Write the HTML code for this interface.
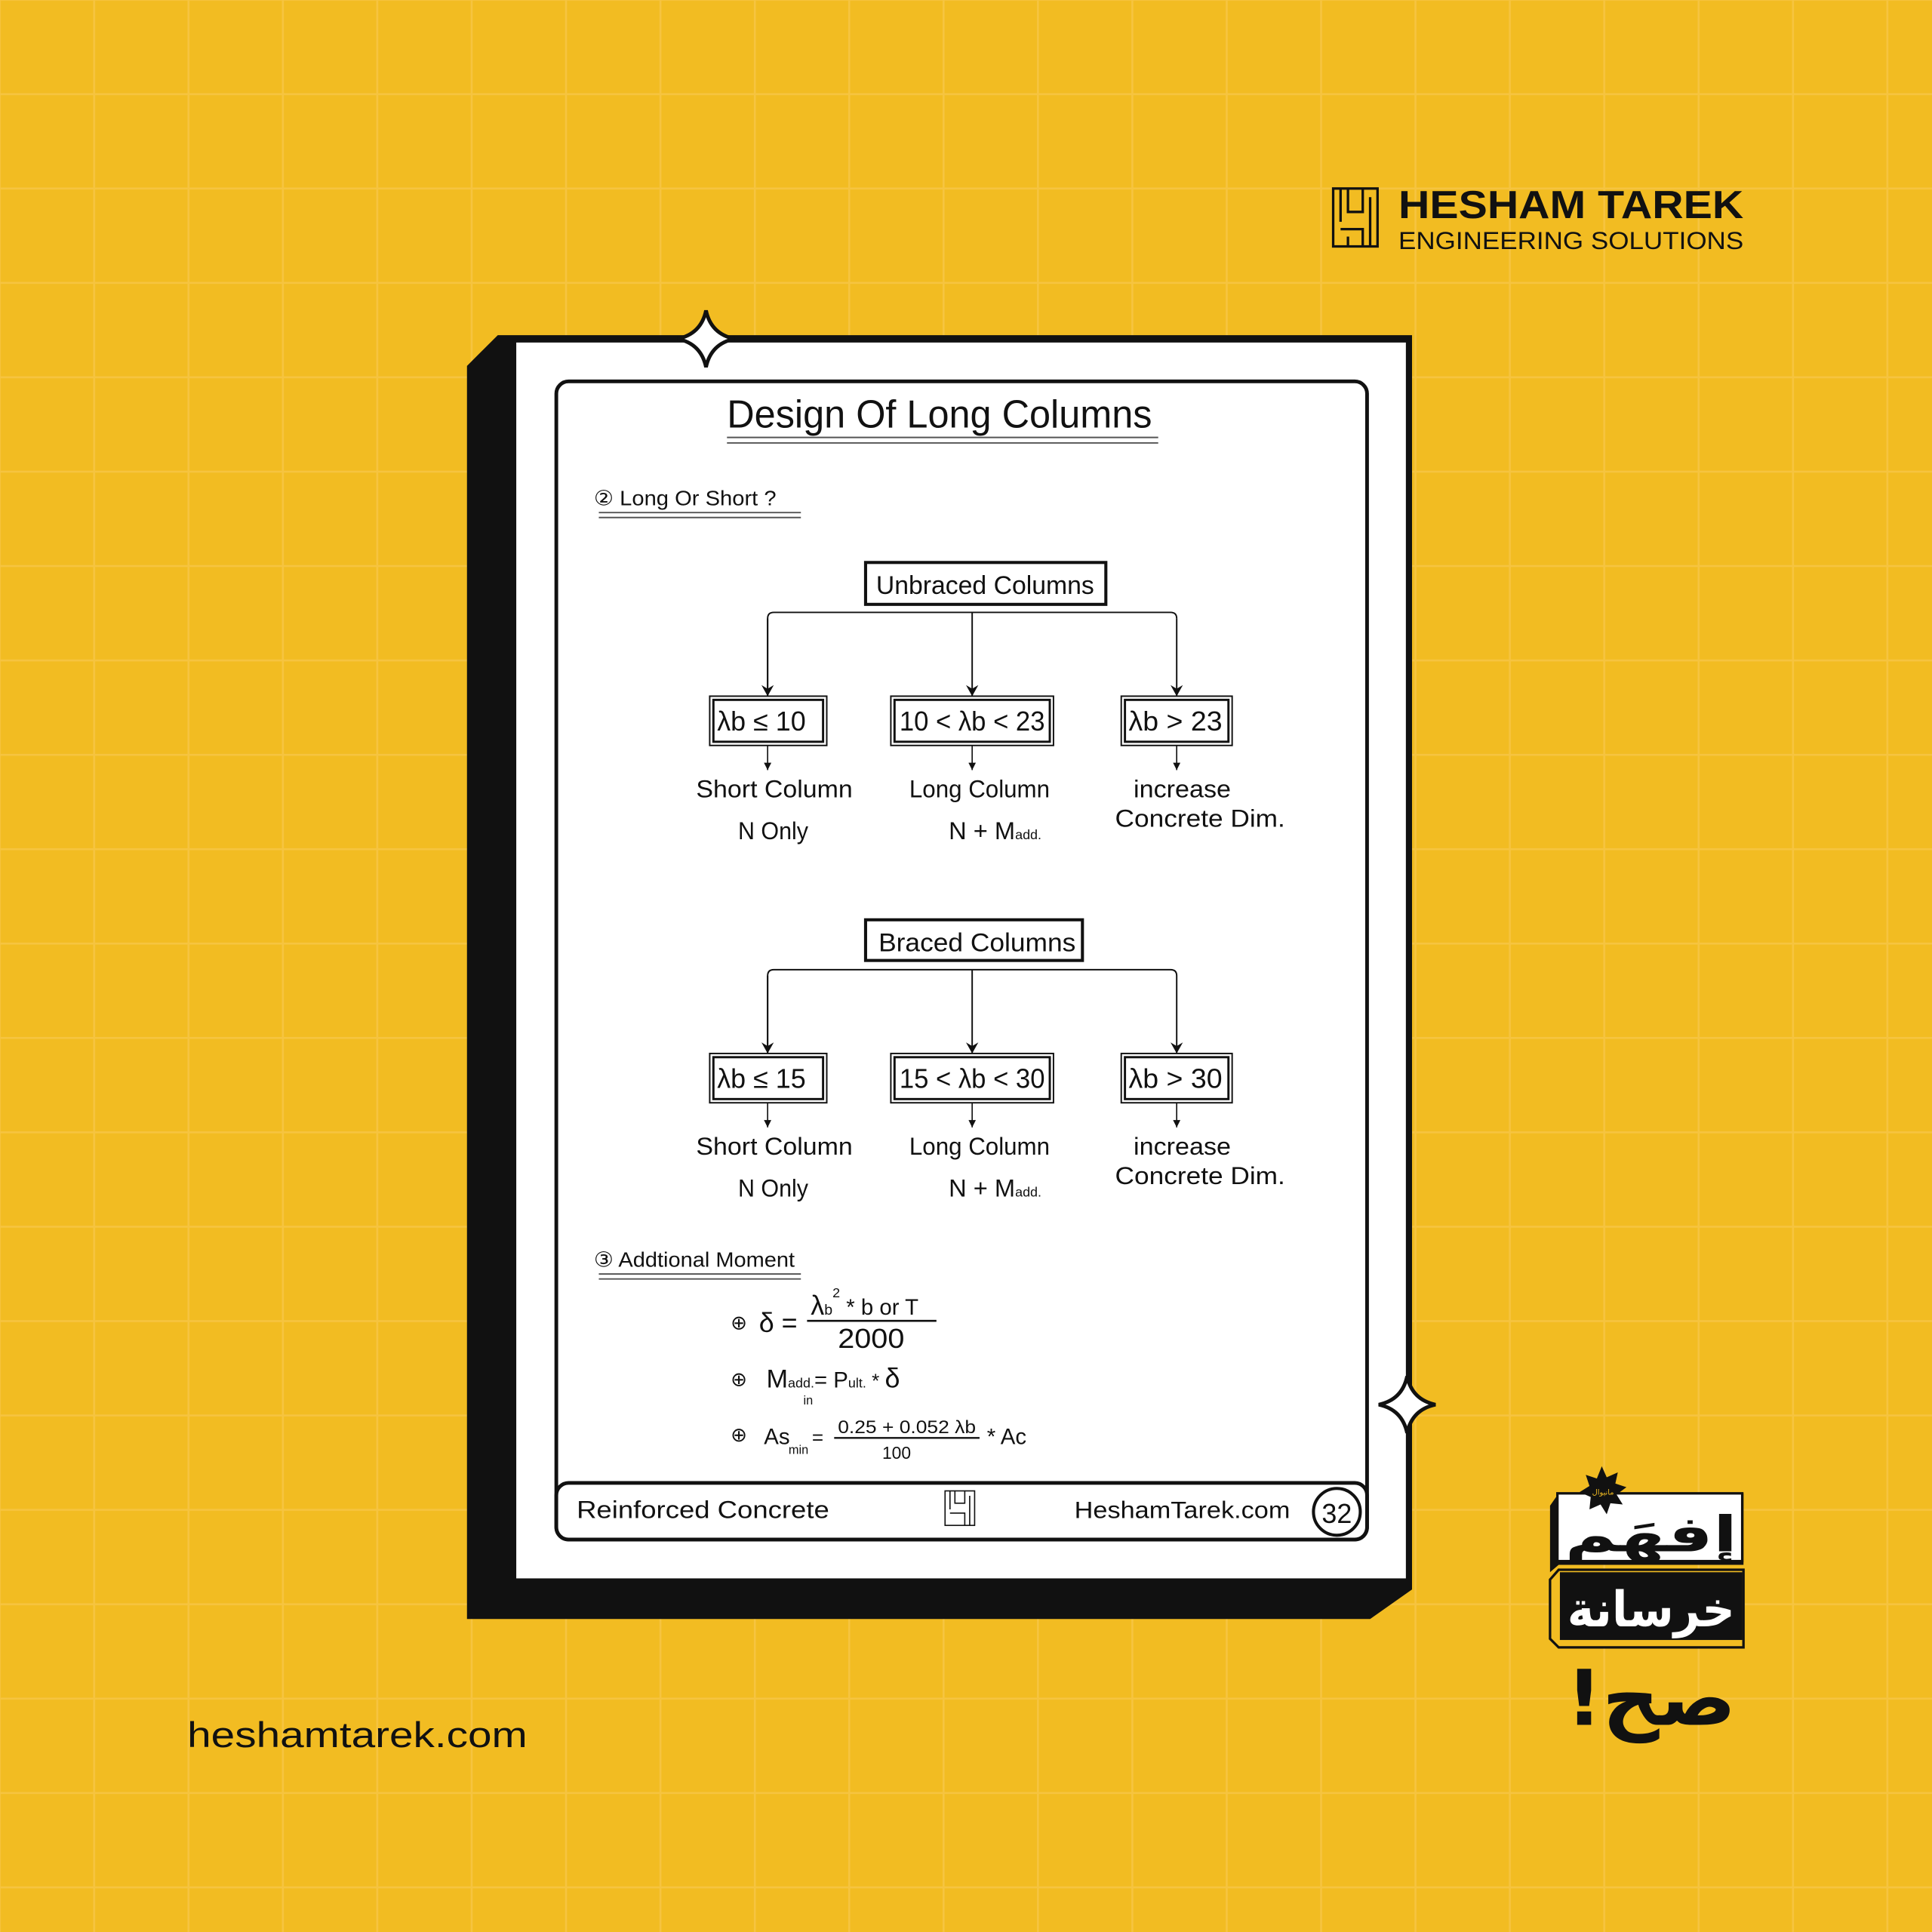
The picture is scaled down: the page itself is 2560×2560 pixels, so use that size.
<!DOCTYPE html>
<html><head><meta charset="utf-8"><style>
html,body{margin:0;padding:0;background:#F2BC22;}
svg{display:block}
.h{font-family:"Liberation Sans","DejaVu Sans",sans-serif;fill:#111;}
</style></head><body>
<svg width="2560" height="2560" viewBox="0 0 1568 1568" xmlns="http://www.w3.org/2000/svg">
<defs>
<pattern id="g" x="-1" y="-1" width="76.6" height="76.6" patternUnits="userSpaceOnUse">
<rect width="76.6" height="76.6" fill="#F2BC22"/>
<rect x="0" y="0" width="1.6" height="76.6" fill="#F6C440"/>
<rect x="0" y="0" width="76.6" height="1.6" fill="#F6C440"/>
</pattern>
<marker id="ar" markerWidth="10" markerHeight="10" refX="9" refY="5" orient="auto" markerUnits="userSpaceOnUse"><path d="M0,0 L9,5 L0,10 L3,5 Z" fill="#111"/></marker>
<marker id="as" markerWidth="6" markerHeight="6" refX="6" refY="3" orient="auto" markerUnits="userSpaceOnUse"><path d="M0,0 L6,3 L0,6 Z" fill="#111"/></marker>
</defs>
<rect width="1568" height="1568" fill="url(#g)"/>

<!-- header logo -->
<g fill="none" stroke="#111" stroke-width="2">
<rect x="1082" y="153" width="36" height="47"/>
<path d="M1088,153 V180 M1094,153 V172 H1106 V153 M1112,160 V200 M1088,186 H1106 V200 M1094,192 V200"/>
</g>
<text x="1135" y="177" class="h" font-size="32" font-weight="bold" textLength="280" lengthAdjust="spacingAndGlyphs">HESHAM TAREK</text>
<text x="1135" y="202" class="h" font-size="20" textLength="280" lengthAdjust="spacingAndGlyphs">ENGINEERING SOLUTIONS</text>

<!-- page -->
<path d="M379,297 L404,272 L1146,272 L1146,1290 L1112,1314 L379,1314 Z" fill="#111"/>
<rect x="419" y="278" width="722" height="1003" fill="#fff"/>
<path d="M573,252 Q577,271 596,275 Q577,279 573,298 Q569,279 550,275 Q569,271 573,252 Z" fill="#fff" stroke="#111" stroke-width="3"/>
<path d="M1142,1117 Q1146,1136 1165,1140 Q1146,1144 1142,1163 Q1138,1144 1119,1140 Q1138,1136 1142,1117 Z" fill="#fff" stroke="#111" stroke-width="3"/>

<rect x="451.5" y="309.5" width="658" height="940" rx="10" fill="#fff" stroke="#111" stroke-width="3"/>
<rect x="451.5" y="1203.5" width="658" height="46" rx="10" fill="#fff" stroke="#111" stroke-width="3"/>

<text x="590" y="347" class="h" font-size="32" textLength="345" lengthAdjust="spacingAndGlyphs">Design Of Long Columns</text>
<path d="M590,355 H940 M590,359.5 H940" stroke="#555" stroke-width="1.2"/>

<text x="482" y="410" class="h" font-size="17" textLength="148" lengthAdjust="spacingAndGlyphs">② Long Or Short ?</text>
<path d="M486,416 H650 M486,420 H650" stroke="#555" stroke-width="1.2"/>

<g id="tree">
<path d="M623,565 V502 Q623,497 628,497 H950 Q955,497 955,502" fill="none" stroke="#111" stroke-width="1.2"/>
<path d="M623,502 V565" stroke="#111" stroke-width="1.2" marker-end="url(#ar)"/>
<path d="M955,502 V565" stroke="#111" stroke-width="1.2" marker-end="url(#ar)"/>
<path d="M789,497 V565" stroke="#111" stroke-width="1.2" marker-end="url(#ar)"/>
<path d="M623,605 V625" stroke="#111" stroke-width="1" marker-end="url(#as)"/>
<path d="M789,605 V625" stroke="#111" stroke-width="1" marker-end="url(#as)"/>
<path d="M955,605 V625" stroke="#111" stroke-width="1" marker-end="url(#as)"/>
<g fill="none" stroke="#111">
<rect x="576" y="565" width="95" height="40" stroke-width="1.2"/><rect x="579" y="568" width="89" height="34" stroke-width="1.8"/>
<rect x="723" y="565" width="132" height="40" stroke-width="1.2"/><rect x="726" y="568" width="126" height="34" stroke-width="1.8"/>
<rect x="910" y="565" width="90" height="40" stroke-width="1.2"/><rect x="913" y="568" width="84" height="34" stroke-width="1.8"/>
</g>
<text x="565" y="647" class="h" font-size="20" textLength="127" lengthAdjust="spacingAndGlyphs">Short Column</text>
<text x="599" y="681" class="h" font-size="20" textLength="57" lengthAdjust="spacingAndGlyphs">N Only</text>
<text x="738" y="647" class="h" font-size="20" textLength="114" lengthAdjust="spacingAndGlyphs">Long Column</text>
<text x="770" y="681" class="h" font-size="20">N + M<tspan font-size="11">add.</tspan></text>
<text x="920" y="647" class="h" font-size="20" textLength="79" lengthAdjust="spacingAndGlyphs">increase</text>
<text x="905" y="671" class="h" font-size="20" textLength="138" lengthAdjust="spacingAndGlyphs">Concrete Dim.</text>
</g>
<rect x="702.5" y="456.5" width="195" height="34" fill="#fff" stroke="#111" stroke-width="2.5"/>
<text x="711" y="482" class="h" font-size="21" textLength="177" lengthAdjust="spacingAndGlyphs">Unbraced Columns</text>
<text x="582" y="593" class="h" font-size="22" textLength="72" lengthAdjust="spacingAndGlyphs">λb ≤ 10</text>
<text x="730" y="593" class="h" font-size="22" textLength="118" lengthAdjust="spacingAndGlyphs">10 &lt; λb &lt; 23</text>
<text x="916" y="593" class="h" font-size="22" textLength="76" lengthAdjust="spacingAndGlyphs">λb &gt; 23</text>

<use href="#tree" transform="translate(0,290)"/>
<rect x="702.5" y="746.5" width="176" height="33" fill="#fff" stroke="#111" stroke-width="2.5"/>
<text x="713" y="772" class="h" font-size="21" textLength="160" lengthAdjust="spacingAndGlyphs">Braced Columns</text>
<text x="582" y="883" class="h" font-size="22" textLength="72" lengthAdjust="spacingAndGlyphs">λb ≤ 15</text>
<text x="730" y="883" class="h" font-size="22" textLength="118" lengthAdjust="spacingAndGlyphs">15 &lt; λb &lt; 30</text>
<text x="916" y="883" class="h" font-size="22" textLength="76" lengthAdjust="spacingAndGlyphs">λb &gt; 30</text>

<text x="482" y="1028" class="h" font-size="17" textLength="163" lengthAdjust="spacingAndGlyphs">③ Addtional Moment</text>
<path d="M486,1034 H650 M486,1038 H650" stroke="#555" stroke-width="1.2"/>

<text x="593" y="1079" class="h" font-size="16">⊕</text>
<text x="616" y="1081" class="h" font-size="22">δ =</text>
<text x="658" y="1067" class="h" font-size="22">λ<tspan font-size="12">b</tspan><tspan font-size="11" dy="-14">2</tspan><tspan dy="14" font-size="18"> * b or T</tspan></text>
<path d="M655,1072 H760" stroke="#111" stroke-width="1.6"/>
<text x="680" y="1094" class="h" font-size="22" textLength="54" lengthAdjust="spacingAndGlyphs">2000</text>

<text x="593" y="1125" class="h" font-size="16">⊕</text>
<text x="622" y="1126" class="h" font-size="21">M<tspan font-size="11">add.</tspan><tspan font-size="18">= P</tspan><tspan font-size="11">ult.</tspan><tspan font-size="16"> * </tspan><tspan font-size="22">δ</tspan></text>
<text x="652" y="1140" class="h" font-size="10">in</text>

<text x="593" y="1170" class="h" font-size="16">⊕</text>
<text x="620" y="1172" class="h" font-size="18">As</text>
<text x="640" y="1180" class="h" font-size="10">min</text>
<text x="659" y="1172" class="h" font-size="16">=</text>
<text x="680" y="1163" class="h" font-size="15" textLength="112" lengthAdjust="spacingAndGlyphs">0.25 + 0.052 λb</text>
<path d="M677,1167 H795" stroke="#111" stroke-width="1.4"/>
<text x="716" y="1184" class="h" font-size="14">100</text>
<text x="801" y="1172" class="h" font-size="18">* Ac</text>

<text x="468" y="1232" class="h" font-size="20" textLength="205" lengthAdjust="spacingAndGlyphs">Reinforced Concrete</text>
<g fill="none" stroke="#111" stroke-width="1">
<rect x="767" y="1210" width="24" height="28"/>
<path d="M771,1210 V1225 M775,1210 V1220 H783 V1210 M787,1214 V1238 M771,1228 H783 V1238"/>
</g>
<text x="872" y="1232" class="h" font-size="19" textLength="175" lengthAdjust="spacingAndGlyphs">HeshamTarek.com</text>
<circle cx="1085" cy="1227" r="19" fill="none" stroke="#111" stroke-width="2.5"/>
<text x="1085" y="1236" class="h" font-size="22" text-anchor="middle">32</text>

<text x="152" y="1418" class="h" font-size="29" textLength="276" lengthAdjust="spacingAndGlyphs" fill="#1a1a1a">heshamtarek.com</text>

<path d="M1258,1222 L1265,1212 L1415,1212 L1415,1270 L1265,1270 L1258,1276 Z" fill="#111"/>
<rect x="1264" y="1212" width="150" height="55" fill="#fff" stroke="#111" stroke-width="2"/>
<path d="M1258,1282 L1265,1274 L1415,1274 L1415,1337 L1265,1337 L1258,1330 Z" fill="#F2BC22" stroke="#111" stroke-width="2"/>
<rect x="1266" y="1276" width="148" height="55" fill="#111"/>
<polygon points="1300,1190 1304,1199 1313,1195 1311,1204 1320,1207 1312,1213 1317,1221 1307,1220 1304,1229 1299,1221 1290,1225 1291,1215 1282,1211 1290,1206 1287,1197 1296,1200" fill="#111"/>
<text x="1301" y="1213" font-family="DejaVu Sans,sans-serif" font-size="6" fill="#F2BC22" text-anchor="middle">مانيوال</text>
<text x="1340" y="1259" font-family="DejaVu Sans,sans-serif" font-weight="bold" font-size="40" fill="#111" text-anchor="middle" textLength="140" lengthAdjust="spacingAndGlyphs">إفهَم</text>
<text x="1340" y="1320" font-family="DejaVu Sans,sans-serif" font-weight="bold" font-size="40" fill="#fff" text-anchor="middle" textLength="136" lengthAdjust="spacingAndGlyphs">خرسانة</text>
<text x="1340" y="1400" font-family="DejaVu Sans,sans-serif" font-weight="bold" font-size="62" fill="#111" text-anchor="middle" textLength="138" lengthAdjust="spacingAndGlyphs">!صح</text>
</svg>
</body></html>
